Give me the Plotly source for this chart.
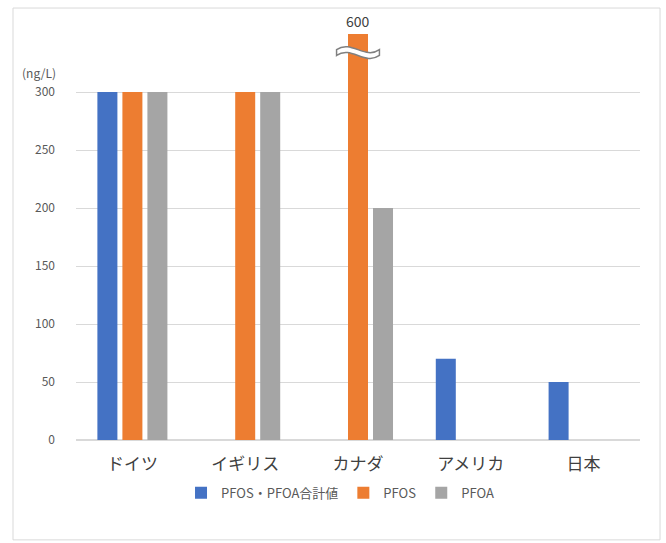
import plotly.graph_objects as go

categories = ["ドイツ", "イギリス", "カナダ", "アメリカ", "日本"]
series_names = ["PFOS・PFOA合計値", "PFOS", "PFOA"]
total_vals = [300, None, None, 70, 50]
pfos_vals = [300, 300, 600, None, None]
pfoa_vals = [300, 300, 200, None, None]
colors = ["#4472C4", "#ED7D31", "#A5A5A5"]
axis_max = 350
tick_vals = [0, 50, 100, 150, 200, 250, 300, 350]
tick_text = ["0", "50", "100", "150", "200", "250", "300", ""]
unit_label = "(ng/L)"

FONT = "Noto Sans CJK JP, Noto Sans, sans-serif"
GRAY_TXT = "#595959"

fig = go.Figure()
for name, vals, col in zip(series_names, [total_vals, pfos_vals, pfoa_vals], colors):
    fig.add_trace(go.Bar(x=categories, y=vals, name=name, marker=dict(color=col, line=dict(width=0))))

# broken bar (value beyond axis)
brk_idx = pfos_vals.index(max(v for v in pfos_vals if v is not None))
brk_val = pfos_vals[brk_idx]
yb = axis_max - 16
xl, xr = brk_idx - 0.19, brk_idx + 0.19
h = 2.5
path = (f"M {xl},{yb+h} C {xl+0.13},{yb+h+9} {xr-0.13},{yb+h-9} {xr},{yb+h} "
        f"L {xr},{yb-h} C {xr-0.13},{yb-h-9} {xl+0.13},{yb-h+9} {xl},{yb-h} Z")
fig.add_shape(type="path", path=path, xref="x", yref="y",
              fillcolor="white", line=dict(color="#808080", width=1.5), layer="above")

fig.add_annotation(x=categories[brk_idx], y=axis_max, text=str(brk_val), showarrow=False,
                   yanchor="bottom", yshift=1, font=dict(family=FONT, size=14, color="#404040"))
fig.add_annotation(xref="paper", yref="y", x=-0.065, y=tick_vals[-2], text=unit_label, showarrow=False,
                   xanchor="center", yanchor="bottom", yshift=9,
                   font=dict(family=FONT, size=12, color=GRAY_TXT))

# chart frame
fig.add_shape(type="rect", xref="paper", yref="paper", x0=-0.1117, x1=1.0355, y0=-0.246, y1=1.064,
              line=dict(color="#D9D9D9", width=1), fillcolor="rgba(0,0,0,0)", layer="below")

fig.update_layout(
    width=666, height=543,
    margin=dict(l=76, r=26, t=34, b=103),
    paper_bgcolor="white", plot_bgcolor="white",
    barmode="group", bargap=0.335, bargroupgap=0.2,
    font=dict(family=FONT, color=GRAY_TXT),
    showlegend=True,
    legend=dict(orientation="h", x=0.469, xanchor="center", y=-0.13, yanchor="middle",
                font=dict(family=FONT, size=13, color=GRAY_TXT), itemwidth=30,
                traceorder="normal"),
    xaxis=dict(showgrid=False, showline=False, ticks="", tickfont=dict(size=17, color="#404040"),
               ticklabelstandoff=12),
    yaxis=dict(range=[0, axis_max], tickvals=tick_vals, ticktext=tick_text,
               showgrid=True, gridcolor="#D9D9D9", gridwidth=1, zeroline=True,
               zerolinecolor="#D9D9D9", showline=False, ticks="",
               tickfont=dict(size=12, color=GRAY_TXT), ticklabelstandoff=20),
)

fig.write_html("out.html")
